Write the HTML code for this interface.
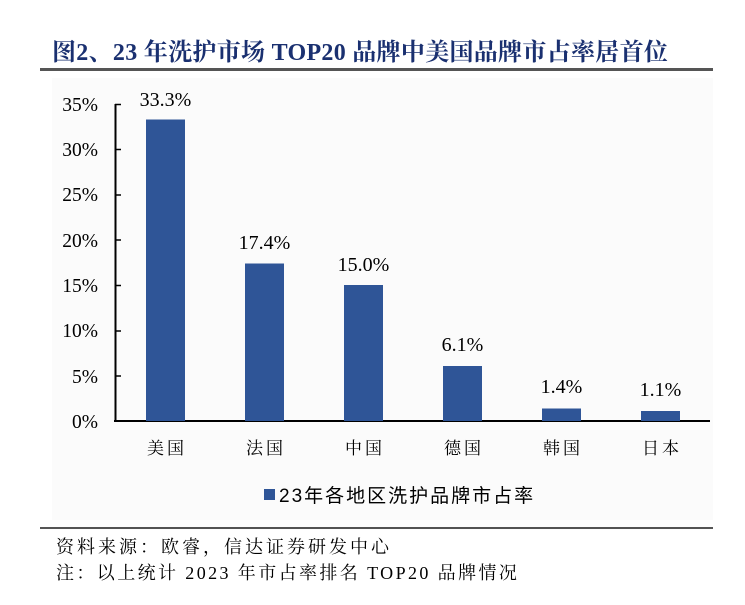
<!DOCTYPE html>
<html><head><meta charset="utf-8"><style>
body{margin:0;background:#fff;width:745px;height:600px;overflow:hidden;font-family:"Liberation Serif","Noto Serif CJK SC",serif;}
</style></head><body>
<svg width="745" height="600" xmlns="http://www.w3.org/2000/svg">
<text x="52" y="60" font-size="24" letter-spacing="0.3" font-weight="bold" fill="#1a3070" font-family="Liberation Serif, Noto Serif CJK SC, serif">图2、23 年洗护市场 TOP20 品牌中美国品牌市占率居首位</text>
<rect x="40" y="68" width="673" height="3" fill="#555"/>
<rect x="52" y="78" width="661" height="442" fill="#fbfbfb"/>
<g font-size="19.5" fill="#000" text-anchor="end" font-family="Liberation Serif, serif">
<text x="98" y="428">0%</text><text x="98" y="383">5%</text><text x="98" y="337">10%</text>
<text x="98" y="292">15%</text><text x="98" y="247">20%</text><text x="98" y="201">25%</text>
<text x="98" y="156">30%</text><text x="98" y="111">35%</text>
</g>
<line x1="115.5" y1="104" x2="115.5" y2="422" stroke="#000" stroke-width="2"/>
<line x1="114" y1="421" x2="710" y2="421" stroke="#000" stroke-width="2"/>
<g stroke="#000" stroke-width="1.5">
<line x1="115" y1="104.5" x2="121" y2="104.5"/><line x1="115" y1="149.5" x2="121" y2="149.5"/>
<line x1="115" y1="195" x2="121" y2="195"/><line x1="115" y1="240" x2="121" y2="240"/>
<line x1="115" y1="285.5" x2="121" y2="285.5"/><line x1="115" y1="331" x2="121" y2="331"/>
<line x1="115" y1="376" x2="121" y2="376"/>
</g>
<g fill="#2f5597">
<rect x="146" y="119.5" width="39" height="301.5"/>
<rect x="245" y="263.5" width="39" height="157.5"/>
<rect x="344" y="285" width="39" height="136"/>
<rect x="443" y="366" width="39" height="55"/>
<rect x="542" y="408.5" width="39" height="12.5"/>
<rect x="641" y="411" width="39" height="10"/>
</g>
<g font-size="20" fill="#000" text-anchor="middle" font-family="Liberation Serif, serif">
<text x="165.5" y="106">33.3%</text><text x="264.5" y="249">17.4%</text>
<text x="363.5" y="271">15.0%</text><text x="462.5" y="351">6.1%</text>
<text x="561.5" y="393">1.4%</text><text x="660.5" y="396">1.1%</text>
</g>
<g font-size="17" fill="#000" text-anchor="middle" font-family="Noto Serif CJK SC, serif" letter-spacing="3">
<text x="167" y="454">美国</text><text x="266" y="454">法国</text><text x="365" y="454">中国</text>
<text x="464" y="454">德国</text><text x="563" y="454">韩国</text><text x="662" y="454">日本</text>
</g>
<rect x="264" y="489" width="11" height="11" fill="#2f5597"/>
<text x="279" y="502" font-size="19" letter-spacing="2" fill="#000" font-family="Liberation Sans, Noto Sans CJK SC, sans-serif">23年各地区洗护品牌市占率</text>
<rect x="40" y="527" width="673" height="2" fill="#555"/>
<text x="56" y="553" font-size="18" letter-spacing="3" fill="#000" font-family="Liberation Serif, Noto Serif CJK SC, serif">资料来源：欧睿，信达证券研发中心</text>
<text x="56" y="579" font-size="18" letter-spacing="2.4" fill="#000" font-family="Liberation Serif, Noto Serif CJK SC, serif">注：以上统计 2023 年市占率排名 TOP20 品牌情况</text>
</svg>
</body></html>
